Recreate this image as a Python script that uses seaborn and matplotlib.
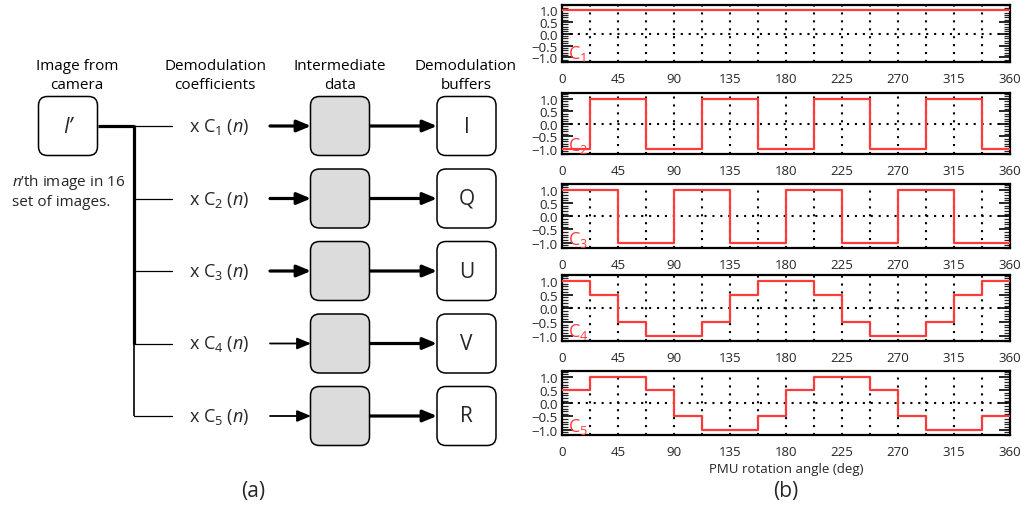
import numpy as np
import pandas as pd
import matplotlib
matplotlib.use("Agg")
import matplotlib.pyplot as plt
from matplotlib.patches import FancyBboxPatch
from matplotlib.ticker import MultipleLocator
import seaborn as sns

# ---- demodulation coefficients, one value per PMU state (16 states, 22.5 deg apart) ----
step_deg = 22.5
state_edges = np.arange(0, 360 + step_deg, step_deg)
c1 = [1, 1, 1, 1, 1, 1, 1, 1, 1, 1, 1, 1, 1, 1, 1, 1]
c2 = [-1, 1, 1, -1, -1, 1, 1, -1, -1, 1, 1, -1, -1, 1, 1, -1]
c3 = [1, 1, -1, -1, 1, 1, -1, -1, 1, 1, -1, -1, 1, 1, -1, -1]
c4 = [1, 0.5, -0.5, -1, -1, -0.5, 0.5, 1, 1, 0.5, -0.5, -1, -1, -0.5, 0.5, 1]
c5 = [0.5, 1, 1, 0.5, -0.5, -1, -1, -0.5, 0.5, 1, 1, 0.5, -0.5, -1, -1, -0.5]
coefficients = [c1, c2, c3, c4, c5]
coef_index = [1, 2, 3, 4, 5]
buffer_labels = ["I", "Q", "U", "V", "R"]
x_ticks = [0, 45, 90, 135, 180, 225, 270, 315, 360]
y_ticks = [-1.0, -0.5, 0.0, 0.5, 1.0]

sns.set_style("white")
plt.rcParams["font.family"] = ["Open Sans", "DejaVu Sans"]
plt.rcParams["mathtext.fontset"] = "custom"
plt.rcParams["mathtext.rm"] = "Open Sans"
plt.rcParams["mathtext.it"] = "Open Sans:italic"

W, H = 1021, 506
fig = plt.figure(figsize=(W / 100, H / 100), dpi=100)
fig.patch.set_facecolor("white")

# ================= (a) processing diagram, drawn in pixel units =================
dg = fig.add_axes([0, 0, 541 / W, 1])
dg.set_xlim(0, 541)
dg.set_ylim(H, 0)
dg.axis("off")

row_y = [127, 199.5, 272, 344.5, 417]
box = 59
thick, thin = 2.3, 0.9


def rbox(cx, cy, face):
    dg.add_patch(FancyBboxPatch((cx - box / 2, cy - box / 2), box, box,
                                boxstyle="round,pad=0,rounding_size=9",
                                fc=face, ec="black", lw=1.1, zorder=3))


def arrow(x0, x1, y, lw):
    dg.annotate("", xy=(x1, y), xytext=(x0, y),
                arrowprops=dict(arrowstyle="-|>,head_length=0.6,head_width=0.25",
                                lw=lw, color="black", mutation_scale=14,
                                shrinkA=0, shrinkB=0), zorder=2)


hdr = dict(fontsize=11, ha="center", va="center", color="black")
dg.text(77, 66, "Image from", **hdr)
dg.text(77, 85, "camera", **hdr)
dg.text(215, 66, "Demodulation", **hdr)
dg.text(215, 85, "coefficients", **hdr)
dg.text(340, 66, "Intermediate", **hdr)
dg.text(340, 85, "data", **hdr)
dg.text(466, 66, "Demodulation", **hdr)
dg.text(466, 85, "buffers", **hdr)

rbox(68, row_y[0], "white")
dg.text(68, row_y[0], "I\u2019", fontsize=15, style="italic", ha="center", va="center", zorder=4)
dg.text(12, 182, r"$\mathit{n}$" + "\u2019th image in 16", fontsize=11, ha="left", va="center")
dg.text(12, 202, "set of images.", fontsize=11, ha="left", va="center")

# trunk from the camera image
dg.plot([97.5, 134], [row_y[0], row_y[0]], color="black", lw=thick, solid_capstyle="butt")
dg.plot([134, 134], [row_y[0] - 1, row_y[3]], color="black", lw=thick, solid_capstyle="butt")
dg.plot([134, 134], [row_y[3], row_y[4]], color="black", lw=thin + 0.3, solid_capstyle="butt")

for i, (y, k, lab) in enumerate(zip(row_y, coef_index, buffer_labels)):
    dg.plot([134, 172], [y, y], color="black", lw=thin)
    dg.text(219, y, r"x C$_\mathrm{%d}$ ($\mathit{n}$)" % k, fontsize=13, ha="center", va="center")
    arrow(270, 311, y, thick if i < 3 else 1.3)
    rbox(340, y, "#dcdcdc")
    arrow(369.5, 437, y, thick)
    rbox(466.5, y, "white")
    dg.text(466.5, y, lab, fontsize=15, ha="center", va="center", zorder=4)

fig.text(253 / W, 1 - 492 / H, "(a)", fontsize=15, ha="center", va="center")

# ================= (b) coefficient curves versus PMU angle =================
panel_px = [(6, 63), (94, 155), (185, 249), (276, 342), (372, 436)]
left_px, right_px = 562, 1010
red = "#ff3a3a"
dots = (0, (1, 2.8))

for k, vals, (top, bot) in zip(coef_index, coefficients, panel_px):
    ax = fig.add_axes([left_px / W, 1 - bot / H, (right_px - left_px) / W, (bot - top) / H])
    df = pd.DataFrame({"angle": state_edges, "value": list(vals) + [vals[-1]]})
    sns.lineplot(data=df, x="angle", y="value", ax=ax, color=red, lw=1.6,
                 drawstyle="steps-post", zorder=3)
    for gx in np.arange(step_deg, 360, step_deg):
        ax.axvline(gx, color="black", lw=1.5, ls=dots, zorder=1)
    ax.axhline(0, color="black", lw=1.5, ls=dots, zorder=1)
    ax.set_xlim(0, 360)
    ax.set_ylim(-1.2, 1.22)
    ax.set_xticks(x_ticks)
    ax.set_yticks(y_ticks)
    ax.set_yticklabels([f"{v:.1f}".replace("-", "\u2212") for v in y_ticks])
    ax.yaxis.set_minor_locator(MultipleLocator(0.1))
    ax.tick_params(axis="y", which="major", direction="in", length=8, width=1.4,
                   left=True, right=True, labelsize=9.5, pad=3)
    ax.tick_params(axis="y", which="minor", direction="in", length=4, width=0.9,
                   left=True, right=True)
    ax.tick_params(axis="x", which="major", direction="in", length=0, labelsize=9.5, pad=7)
    for sp in ax.spines.values():
        sp.set_visible(True)
        sp.set_color("black")
        sp.set_linewidth(1.6)
    ax.set_ylabel("")
    ax.set_xlabel("")
    ax.text(0.014, 0.07, r"C$_\mathrm{%d}$" % k, transform=ax.transAxes, color=red,
            fontsize=13, ha="left", va="baseline", zorder=5)
    ax.set_facecolor("white")

ax.set_xlabel("PMU rotation angle (deg)", fontsize=9.5, labelpad=3)
fig.text(786 / W, 1 - 492 / H, "(b)", fontsize=15, ha="center", va="center")

fig.savefig("out.png", dpi=100, facecolor="white")
